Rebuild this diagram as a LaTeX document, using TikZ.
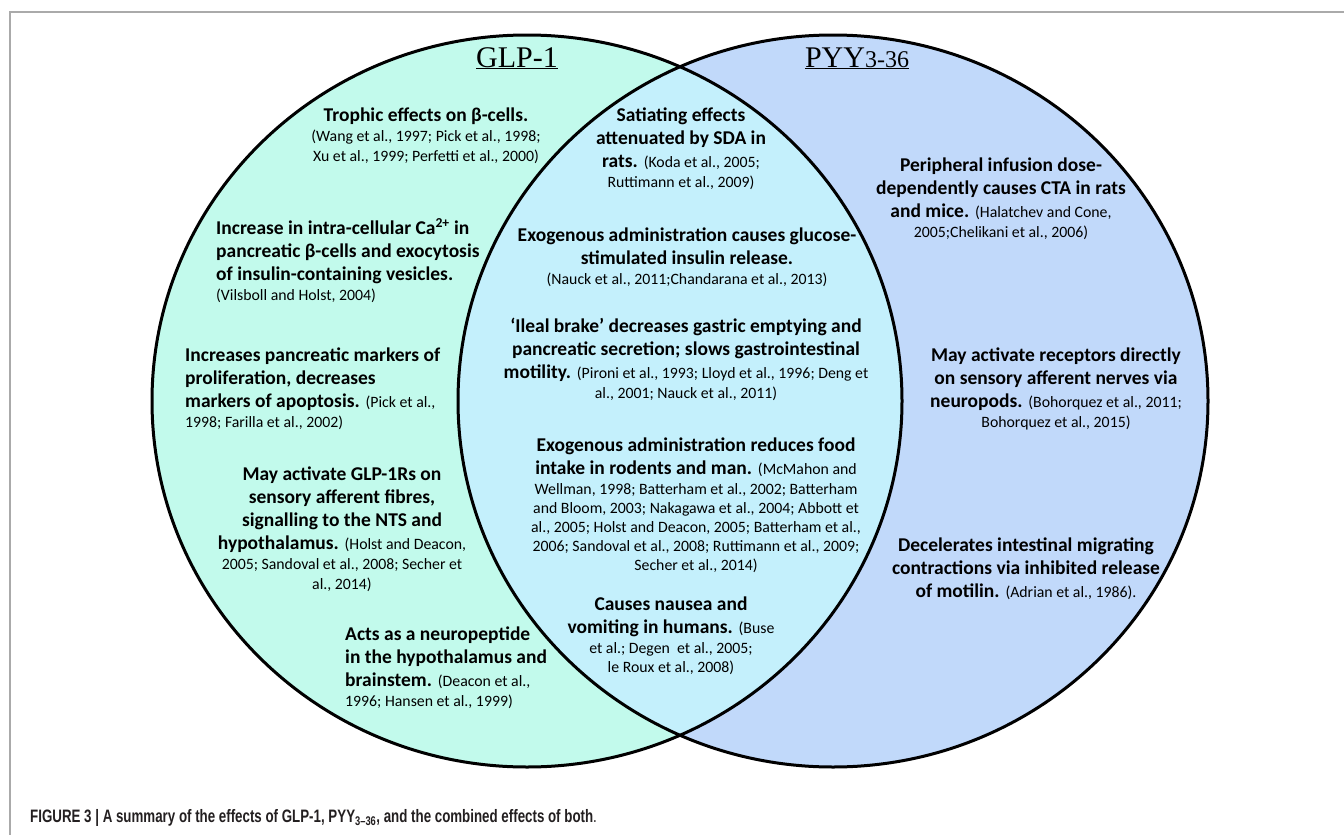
\documentclass[tikz,border=0pt]{standalone}
\usepackage{fontspec}
\setmainfont{Carlito}
\newfontfamily\titlefont{Liberation Serif}
\newfontfamily\capfont{Liberation Sans}[FakeStretch=0.74]
\usepackage{tikz}
\usetikzlibrary{positioning}
\definecolor{glpmint}{RGB}{194,250,236}
\definecolor{pyyblue}{RGB}{193,217,250}
\definecolor{bothcyan}{RGB}{196,240,252}
\definecolor{framegray}{RGB}{170,170,170}
\definecolor{captext}{RGB}{35,31,32}
\newcommand{\refs}[1]{{\mdseries\fontsize{15.8}{18}\selectfont #1}}
\newcommand{\glpset}{(527,401) ellipse [x radius=375pt, y radius=366pt]}
\newcommand{\pyyset}{(833,401) ellipse [x radius=375pt, y radius=366pt]}

\begin{document}
\begin{tikzpicture}[
      x=1pt, y=-1pt,
      effect/.style={
        font=\bfseries\fontsize{19.5}{23}\selectfont,
        align=center, inner sep=0pt, anchor=north
      },
      effectleft/.style={effect, align=left, anchor=north west},
      settitle/.style={font=\titlefont\fontsize{30}{30}\selectfont, inner sep=0pt, anchor=base}
    ]
      \useasboundingbox (0,0) rectangle (1344,835);
      \draw[framegray, line width=1.5pt] (10,835) -- (10,12) -- (1344,12);

      % the two sets and their overlap
      \fill[glpmint] \glpset;
      \fill[pyyblue] \pyyset;
      \begin{scope}
        \clip \glpset;
        \fill[bothcyan] \pyyset;
      \end{scope}
      \draw[line width=3pt] \glpset;
      \draw[line width=3pt] \pyyset;

      \node[settitle] (glp) at (517,67) {\underline{GLP-1}};
      \node[settitle] (pyy) at (857,67) {\underline{PYY{\fontsize{24}{24}\selectfont 3-36}}};

      % GLP-1 only
      \node[effect] (trophic) at (426,108) {Trophic effects on β-cells.\\[-3pt]
        \refs{(Wang et al., 1997; Pick et al., 1998;}\\[-3pt]
        \refs{Xu et al., 1999; Perfetti et al., 2000)}};
      \node[effectleft] (calcium) at (216,218) {Increase in intra-cellular Ca\textsuperscript{2+} in\\
        pancreatic β-cells and exocytosis\\
        of insulin-containing vesicles.\\[-3pt]
        \refs{(Vilsboll and Holst, 2004)}};
      \node[effectleft] (prolif) at (185,348) {Increases pancreatic markers of\\
        proliferation, decreases\\
        markers of apoptosis. \refs{(Pick et al.,}\\[-3pt]
        \refs{1998; Farilla et al., 2002)}};
      \node[effect] (afferent) at (342,467) {May activate GLP-1Rs on\\
        sensory afferent fibres,\\
        signalling to the NTS and\\
        hypothalamus. \refs{(Holst and Deacon,}\\[-3pt]
        \refs{2005; Sandoval et al., 2008; Secher et}\\[-3pt]
        \refs{al., 2014)}};
      \node[effectleft] (neuropep) at (345,627) {Acts as a neuropeptide\\
        in the hypothalamus and\\
        brainstem. \refs{(Deacon et al.,}\\[-3pt]
        \refs{1996; Hansen et al., 1999)}};

      % both
      \node[effect] (satiating) at (681,108) {Satiating effects\\
        attenuated by SDA in\\
        rats. \refs{(Koda et al., 2005;}\\[-3pt]
        \refs{Ruttimann et al., 2009)}};
      \node[effect] (insulin) at (687,228) {Exogenous administration causes glucose-\\
        stimulated insulin release.\\[-3pt]
        \refs{(Nauck et al., 2011;Chandarana et al., 2013)}};
      \node[effect] (ileal) at (686,318) {‘Ileal brake’ decreases gastric emptying and\\
        pancreatic secretion; slows gastrointestinal\\
        motility. \refs{(Pironi et al., 1993; Lloyd et al., 1996; Deng et}\\[-3pt]
        \refs{al., 2001; Nauck et al., 2011)}};
      \node[effect] (intake) at (696,438) {Exogenous administration reduces food\\
        intake in rodents and man. \refs{(McMahon and}\\[-3pt]
        \refs{Wellman, 1998; Batterham et al., 2002; Batterham}\\[-4pt]
        \refs{and Bloom, 2003; Nakagawa et al., 2004; Abbott et}\\[-4pt]
        \refs{al., 2005; Holst and Deacon, 2005; Batterham et al.,}\\[-4pt]
        \refs{2006; Sandoval et al., 2008; Ruttimann et al., 2009;}\\[-4pt]
        \refs{Secher et al., 2014)}};
      \node[effect] (nausea) at (671,597) {Causes nausea and\\
        vomiting in humans. \refs{(Buse}\\[-3pt]
        \refs{et al.; Degen\ \ et al., 2005;}\\[-4pt]
        \refs{le Roux et al., 2008)}};

      % PYY3-36 only
      \node[effect] (cta) at (1001,158) {Peripheral infusion dose-\\
        dependently causes CTA in rats\\
        and mice. \refs{(Halatchev and Cone,}\\[-3pt]
        \refs{2005;Chelikani et al., 2006)}};
      \node[effect] (neuropods) at (1056,348) {May activate receptors directly\\
        on sensory afferent nerves via\\
        neuropods. \refs{(Bohorquez et al., 2011;}\\[-3pt]
        \refs{Bohorquez et al., 2015)}};
      \node[effect] (motilin) at (1026,538) {Decelerates intestinal migrating\\
        contractions via inhibited release\\
        of motilin. \refs{(Adrian et al., 1986).}};

      \node[font=\capfont\bfseries\fontsize{18}{18}\selectfont, text=captext, anchor=west, inner sep=0pt]
        (caption) at (30,818) {FIGURE 3 | A summary of the effects of GLP-1, PYY\textsubscript{3–36}, and the combined effects of both\mdseries.};
    \end{tikzpicture}
\end{document}
